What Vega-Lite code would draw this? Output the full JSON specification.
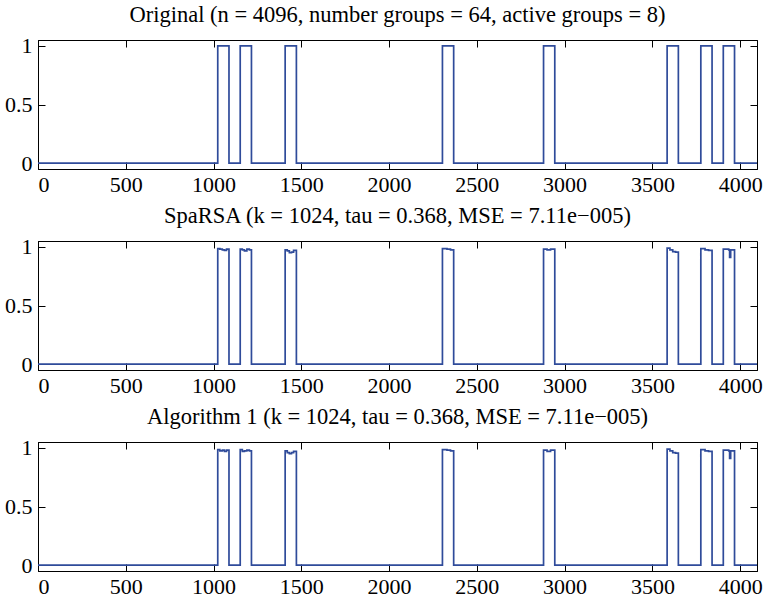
{
 "$schema": "https://vega.github.io/schema/vega-lite/v6.json",
 "padding": {"left": 4, "top": 3, "right": 0, "bottom": 0},
 "spacing": 8,
 "config": {
  "font": "Liberation Serif",
  "view": {"stroke": "black", "strokeWidth": 1},
  "style": {"guide-label": {"font": "Liberation Serif", "fontSize": 22, "fill": "black"}},
  "axis": {"grid": false, "domainColor": "black", "tickColor": "black", "labelColor": "black", "labelFont": "Liberation Serif", "labelFontSize": 22, "tickSize": -7, "title": null},
  "axisX": {"labelPadding": 12},
  "axisY": {"labelPadding": 13},
  "title": {"font": "Liberation Serif", "fontSize": 22.5, "fontWeight": "normal", "color": "black", "offset": 8}
 },
 "datasets": {
  "orig": [
   {"x": 0, "y": 0}, {"x": 1024, "y": 1}, {"x": 1088, "y": 0}, {"x": 1152, "y": 1}, {"x": 1216, "y": 0},
   {"x": 1408, "y": 1}, {"x": 1472, "y": 0}, {"x": 2304, "y": 1}, {"x": 2368, "y": 0}, {"x": 2880, "y": 1},
   {"x": 2944, "y": 0}, {"x": 3584, "y": 1}, {"x": 3648, "y": 0}, {"x": 3776, "y": 1}, {"x": 3840, "y": 0},
   {"x": 3904, "y": 1}, {"x": 3968, "y": 0}, {"x": 4096, "y": 0}
  ],
  "sparsa": [
   {"x": 0, "y": 0}, {"x": 1024, "y": 0.985}, {"x": 1036, "y": 0.98}, {"x": 1050, "y": 0.975}, {"x": 1062, "y": 0.97}, {"x": 1074, "y": 0.98}, {"x": 1088, "y": 0},
   {"x": 1152, "y": 0.98}, {"x": 1164, "y": 0.975}, {"x": 1176, "y": 0.965}, {"x": 1190, "y": 0.98}, {"x": 1204, "y": 0.975}, {"x": 1216, "y": 0},
   {"x": 1408, "y": 0.975}, {"x": 1420, "y": 0.965}, {"x": 1432, "y": 0.95}, {"x": 1444, "y": 0.955}, {"x": 1456, "y": 0.97}, {"x": 1472, "y": 0},
   {"x": 2304, "y": 0.985}, {"x": 2330, "y": 0.98}, {"x": 2350, "y": 0.975}, {"x": 2368, "y": 0},
   {"x": 2880, "y": 0.98}, {"x": 2900, "y": 0.975}, {"x": 2920, "y": 0.98}, {"x": 2944, "y": 0},
   {"x": 3584, "y": 0.99}, {"x": 3600, "y": 0.975}, {"x": 3616, "y": 0.96}, {"x": 3632, "y": 0.955}, {"x": 3648, "y": 0},
   {"x": 3776, "y": 0.985}, {"x": 3800, "y": 0.975}, {"x": 3820, "y": 0.97}, {"x": 3840, "y": 0},
   {"x": 3904, "y": 0.98}, {"x": 3935, "y": 0.975}, {"x": 3940, "y": 0.91}, {"x": 3946, "y": 0.975}, {"x": 3968, "y": 0},
   {"x": 4096, "y": 0}
  ],
  "alg1": [
   {"x": 0, "y": 0}, {"x": 1024, "y": 0.985}, {"x": 1036, "y": 0.975}, {"x": 1050, "y": 0.98}, {"x": 1062, "y": 0.97}, {"x": 1074, "y": 0.98}, {"x": 1088, "y": 0},
   {"x": 1152, "y": 0.985}, {"x": 1164, "y": 0.97}, {"x": 1176, "y": 0.975}, {"x": 1190, "y": 0.98}, {"x": 1204, "y": 0.975}, {"x": 1216, "y": 0},
   {"x": 1408, "y": 0.975}, {"x": 1420, "y": 0.96}, {"x": 1432, "y": 0.95}, {"x": 1444, "y": 0.96}, {"x": 1456, "y": 0.97}, {"x": 1472, "y": 0},
   {"x": 2304, "y": 0.985}, {"x": 2330, "y": 0.98}, {"x": 2350, "y": 0.975}, {"x": 2368, "y": 0},
   {"x": 2880, "y": 0.98}, {"x": 2900, "y": 0.97}, {"x": 2920, "y": 0.98}, {"x": 2944, "y": 0},
   {"x": 3584, "y": 0.99}, {"x": 3600, "y": 0.975}, {"x": 3616, "y": 0.96}, {"x": 3632, "y": 0.955}, {"x": 3648, "y": 0},
   {"x": 3776, "y": 0.985}, {"x": 3800, "y": 0.975}, {"x": 3820, "y": 0.97}, {"x": 3840, "y": 0},
   {"x": 3904, "y": 0.98}, {"x": 3935, "y": 0.975}, {"x": 3940, "y": 0.91}, {"x": 3946, "y": 0.975}, {"x": 3968, "y": 0},
   {"x": 4096, "y": 0}
  ]
 },
 "vconcat": [
  {
   "width": 719, "height": 129,
   "title": {"text": "Original (n = 4096, number groups = 64, active groups = 8)"},
   "data": {"name": "orig"},
   "layer": [
    {"mark": {"type": "line", "interpolate": "step-after", "color": "#2f4b9a", "strokeWidth": 1.7, "clip": true},
     "encoding": {
      "x": {"field": "x", "type": "quantitative", "scale": {"domain": [0, 4096], "nice": false, "zero": false}, "axis": {"orient": "bottom", "values": [0, 500, 1000, 1500, 2000, 2500, 3000, 3500, 4000], "format": "d"}},
      "y": {"field": "y", "type": "quantitative", "scale": {"domain": [-0.05, 1.05], "nice": false, "zero": false}, "axis": {"orient": "left", "values": [0, 0.5, 1], "format": "~g"}}
     }},
    {"mark": {"type": "point", "opacity": 0},
     "encoding": {
      "x": {"field": "x", "type": "quantitative", "axis": {"orient": "top", "values": [0, 500, 1000, 1500, 2000, 2500, 3000, 3500, 4000], "labels": false}},
      "y": {"field": "y", "type": "quantitative", "axis": {"orient": "right", "values": [0, 0.5, 1], "labels": false}}
     }}
   ],
   "resolve": {"axis": {"x": "independent", "y": "independent"}}
  },
  {
   "width": 719, "height": 129,
   "title": {"text": "SpaRSA (k = 1024, tau = 0.368, MSE = 7.11e−005)"},
   "data": {"name": "sparsa"},
   "layer": [
    {"mark": {"type": "line", "interpolate": "step-after", "color": "#2f4b9a", "strokeWidth": 1.7, "clip": true},
     "encoding": {
      "x": {"field": "x", "type": "quantitative", "scale": {"domain": [0, 4096], "nice": false, "zero": false}, "axis": {"orient": "bottom", "values": [0, 500, 1000, 1500, 2000, 2500, 3000, 3500, 4000], "format": "d"}},
      "y": {"field": "y", "type": "quantitative", "scale": {"domain": [-0.05, 1.05], "nice": false, "zero": false}, "axis": {"orient": "left", "values": [0, 0.5, 1], "format": "~g"}}
     }},
    {"mark": {"type": "point", "opacity": 0},
     "encoding": {
      "x": {"field": "x", "type": "quantitative", "axis": {"orient": "top", "values": [0, 500, 1000, 1500, 2000, 2500, 3000, 3500, 4000], "labels": false}},
      "y": {"field": "y", "type": "quantitative", "axis": {"orient": "right", "values": [0, 0.5, 1], "labels": false}}
     }}
   ],
   "resolve": {"axis": {"x": "independent", "y": "independent"}}
  },
  {
   "width": 719, "height": 129,
   "title": {"text": "Algorithm 1 (k = 1024, tau = 0.368, MSE = 7.11e−005)"},
   "data": {"name": "alg1"},
   "layer": [
    {"mark": {"type": "line", "interpolate": "step-after", "color": "#2f4b9a", "strokeWidth": 1.7, "clip": true},
     "encoding": {
      "x": {"field": "x", "type": "quantitative", "scale": {"domain": [0, 4096], "nice": false, "zero": false}, "axis": {"orient": "bottom", "values": [0, 500, 1000, 1500, 2000, 2500, 3000, 3500, 4000], "format": "d"}},
      "y": {"field": "y", "type": "quantitative", "scale": {"domain": [-0.05, 1.05], "nice": false, "zero": false}, "axis": {"orient": "left", "values": [0, 0.5, 1], "format": "~g"}}
     }},
    {"mark": {"type": "point", "opacity": 0},
     "encoding": {
      "x": {"field": "x", "type": "quantitative", "axis": {"orient": "top", "values": [0, 500, 1000, 1500, 2000, 2500, 3000, 3500, 4000], "labels": false}},
      "y": {"field": "y", "type": "quantitative", "axis": {"orient": "right", "values": [0, 0.5, 1], "labels": false}}
     }}
   ],
   "resolve": {"axis": {"x": "independent", "y": "independent"}}
  }
 ]
}
